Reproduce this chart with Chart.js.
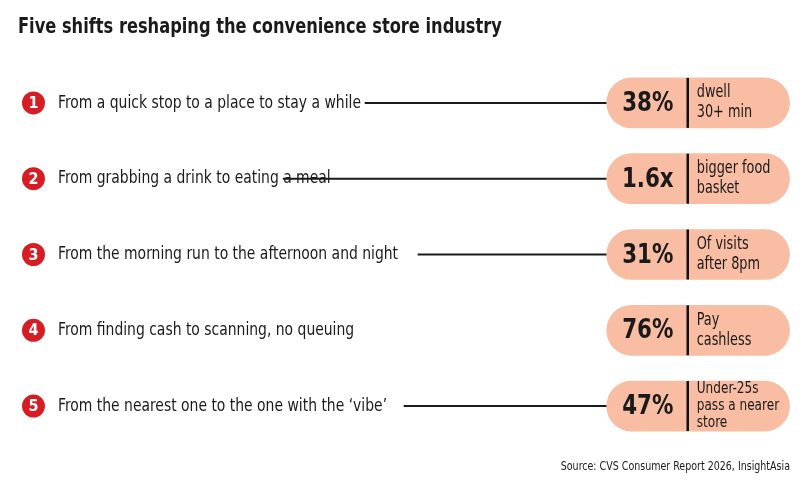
<!DOCTYPE html>
<html>
<head>
<meta charset="utf-8">
<script src="https://cdn.jsdelivr.net/npm/chart.js@4"></script>
<style>
  body { margin: 0; background: #fff; }
</style>
</head>
<body>
<canvas id="c" width="806" height="483"></canvas>
<script>
const FONT = '"DejaVu Sans Condensed", "Roboto", sans-serif';

const rows = ['1', '2', '3', '4', '5'];
const shifts = [
  'From a quick stop to a place to stay a while',
  'From grabbing a drink to eating a meal',
  'From the morning run to the afternoon and night',
  'From finding cash to scanning, no queuing',
  'From the nearest one to the one with the \u2018vibe\u2019'
];
const stats = ['38%', '1.6x', '31%', '76%', '47%'];
const statLabels = [
  ['dwell', '30+ min'],
  ['bigger food', 'basket'],
  ['Of visits', 'after 8pm'],
  ['Pay', 'cashless'],
  ['Under-25s', 'pass a nearer', 'store']
];
// connector line start (x), null = no line
const lineStarts = [365, 283, 418, null, 404];
const pillRange = [607, 790];

// draw text squeezed horizontally to mimic a condensed face
function squeeze(ctx, text, x, y, sx) {
  ctx.save();
  ctx.translate(x, y);
  ctx.scale(sx, 1);
  ctx.fillText(text, 0, 0);
  ctx.restore();
}

const textPlugin = {
  id: 'texts',
  afterDatasetsDraw(chart) {
    const ctx = chart.ctx;
    const x = chart.scales.x, y = chart.scales.y;
    ctx.save();
    ctx.fillStyle = '#1a1a1a';
    ctx.textBaseline = 'alphabetic';
    ctx.font = 'bold 21px ' + FONT;
    squeeze(ctx, 'Five shifts reshaping the convenience store industry', 18, 33, 0.86);
    ctx.font = '12px ' + FONT;
    ctx.textAlign = 'right';
    squeeze(ctx, 'Source: CVS Consumer Report 2026, InsightAsia', 790, 470, 0.88);
    rows.forEach((r, i) => {
      const cy = y.getPixelForValue(i);
      ctx.textAlign = 'center';
      ctx.textBaseline = 'middle';
      ctx.fillStyle = '#fff';
      ctx.font = 'bold 16px ' + FONT;
      ctx.fillText(r, x.getPixelForValue(33), cy + 1);
      ctx.textAlign = 'left';
      ctx.fillStyle = '#1a1a1a';
      ctx.font = '18px ' + FONT;
      squeeze(ctx, shifts[i], 58, cy, 0.86);
      const left = x.getPixelForValue(pillRange[0]);
      ctx.textAlign = 'center';
      ctx.font = 'bold 27px ' + FONT;
      squeeze(ctx, stats[i], left + 41, cy + 1, 0.88);
      const dx = left + 81;
      ctx.strokeStyle = '#111';
      ctx.lineWidth = 2.5;
      ctx.beginPath();
      ctx.moveTo(dx, cy - 25);
      ctx.lineTo(dx, cy + 25);
      ctx.stroke();
      ctx.textAlign = 'left';
      const lines = statLabels[i];
      const lh = lines.length > 2 ? 17 : 20;
      ctx.font = (lines.length > 2 ? '16px ' : '17px ') + FONT;
      lines.forEach((t, k) => {
        squeeze(ctx, t, dx + 9, cy + (k - (lines.length - 1) / 2) * lh, 0.84);
      });
    });
    ctx.restore();
  }
};

new Chart(document.getElementById('c'), {
  type: 'bar',
  data: {
    labels: rows,
    datasets: [
      {
        label: 'connector',
        data: lineStarts.map(s => s === null ? null : [s, pillRange[0]]),
        backgroundColor: '#1a1a1a',
        barThickness: 1.3,
        order: 3
      },
      {
        label: 'pill',
        data: rows.map(() => pillRange),
        backgroundColor: '#f8bda3',
        borderRadius: 25,
        borderSkipped: false,
        barThickness: 50,
        order: 2
      },
      {
        type: 'scatter',
        label: 'badge',
        data: rows.map((r, i) => ({ x: 33, y: i })),
        backgroundColor: '#d71d24',
        borderWidth: 0,
        pointRadius: 11.5,
        order: 1
      }
    ]
  },
  options: {
    indexAxis: 'y',
    responsive: false,
    animation: false,
    layout: { padding: { top: 65, bottom: 39, left: 0, right: 0 } },
    datasets: { bar: { grouped: false } },
    scales: {
      x: { type: 'linear', min: 11, max: 795, display: false },
      y: { type: 'category', offset: true, display: false }
    },
    plugins: { legend: { display: false }, tooltip: { enabled: false } }
  },
  plugins: [textPlugin]
});
</script>
</body>
</html>
